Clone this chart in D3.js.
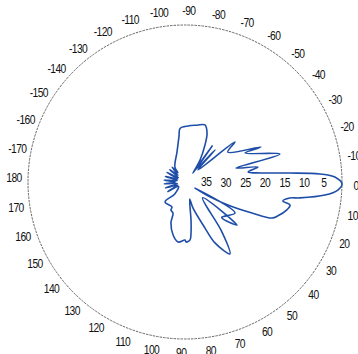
<!DOCTYPE html>
<html>
<head>
<meta charset="utf-8">
<script src="https://cdn.jsdelivr.net/npm/d3@7"></script>
<style>
  html, body { margin: 0; padding: 0; background: #fff; }
  svg { display: block; }
  .lbl { font-family: "Liberation Sans", Arial, sans-serif; font-size: 12px; fill: #111; letter-spacing: -0.7px; }
</style>
</head>
<body>
<svg id="chart" width="358" height="354"></svg>
<script>
// Angle labels around the rim (degrees, clockwise from the 0° direction)
const angleTicks = [-170,-160,-150,-140,-130,-120,-110,-100,-90,-80,-70,-60,-50,-40,-30,-20,-10,
                    0,10,20,30,40,50,60,70,80,90,100,110,120,130,140,150,160,170,180];
// Attenuation labels along the 0° radius (dB below peak)
const radialTicks = [35,30,25,20,15,10,5];

// Radiation pattern trace: angle (deg) and attenuation (dB below peak)
const patternAngle = [
  -180,-175,-170,-164,-158,-152,-147,-141,-136,-131,-127,-124,
  -105,-97.4,-95.3,-87,-78,-70.7,-65.8,-61.6,-55.7,-48,
  -53,-49.4,-46.8,-43,
  -38.7,-34.9,-24.7,-25.8,-16.4,-15.3,-11.6,-9,-6.8,
  -4.9,-3.4,-1.9,0.7,3,5.3,7.9,8.7,11,12.4,15.3,20,22.5,24.8,28.1,31.3,31.6,
  31.8,44,39.6,42,
  53.5,58,63.8,66.5,73,74.5,
  81,83.3,85,89,90,96.6,102.8,109,111,116.6,117.5,135,130.6,
  146,151,157,163,169,175
];
const patternLoss = [
  37.5,34.6,38,34.8,38,34.8,38,35,37.5,35,37,35.4,
  32.1,28.2,26.3,25.7,25.2,24.6,26.3,29.3,33.2,37,
  28.5,36,28.8,35.5,
  23.7,26.7,18.7,23,14.8,26.5,21,23.7,20.5,
  13.2,5.6,1.8,0,1,4.2,10.5,13,14.6,12.6,13.1,14.8,16,21.2,27.6,33.2,37,
  25,27,22.8,34,
  24.2,18.4,22.7,27.2,33.1,35.5,
  30.2,26.9,25.2,24.7,25.2,24.6,26.2,29,31.5,32,32.8,32.8,36,
  38,35,38,34.8,38,34.7
];

const svg = d3.select("#chart");
const cx = 185, cy = 182, R = 157;
const g = svg.append("g").attr("transform", `translate(${cx},${cy})`);

// 0 dB on the rim, 40 dB at the centre
const r = d3.scaleLinear().domain([0, 40]).range([R, 0]);
// compass angle in d3 terms: 0° points right, positive clockwise
const a = d3.scaleLinear().domain([-180, 180]).range([-Math.PI / 2, 3 * Math.PI / 2]);

// outer ring
g.append("circle")
  .attr("r", r(0))
  .attr("fill", "none")
  .attr("stroke", "#555")
  .attr("stroke-width", 0.9)
  .attr("stroke-dasharray", "2.5 1");

// condensed label helper
function placeLabel(sel, px, py) {
  sel.attr("transform", d => `translate(${px(d)},${py(d)}) scale(0.86,1)`)
    .attr("text-anchor", "middle")
    .attr("dominant-baseline", "central")
    .text(d => d);
}

// angle labels
const labelR = R + 14, labelTwist = 1.3;
g.selectAll("text.ang")
  .data(angleTicks)
  .join("text")
  .attr("class", "lbl ang")
  .call(placeLabel,
        d => labelR * Math.sin(a(d + labelTwist)),
        d => -labelR * Math.cos(a(d + labelTwist)));

// attenuation labels along 0°
g.selectAll("text.rad")
  .data(radialTicks)
  .join("text")
  .attr("class", "lbl rad")
  .call(placeLabel,
        d => r(d) * Math.sin(a(0.5)) + 1.5,
        d => -r(d) * Math.cos(a(0.5)));

// pattern
const pts = patternAngle.map((ang, i) => [a(ang), r(patternLoss[i])]);
const line = d3.lineRadial().curve(d3.curveCatmullRomClosed.alpha(0.5));
g.append("path")
  .attr("d", line(pts))
  .attr("fill", "none")
  .attr("stroke", "#1f4ea8")
  .attr("stroke-width", 1.6)
  .attr("stroke-linejoin", "round");
</script>
</body>
</html>
